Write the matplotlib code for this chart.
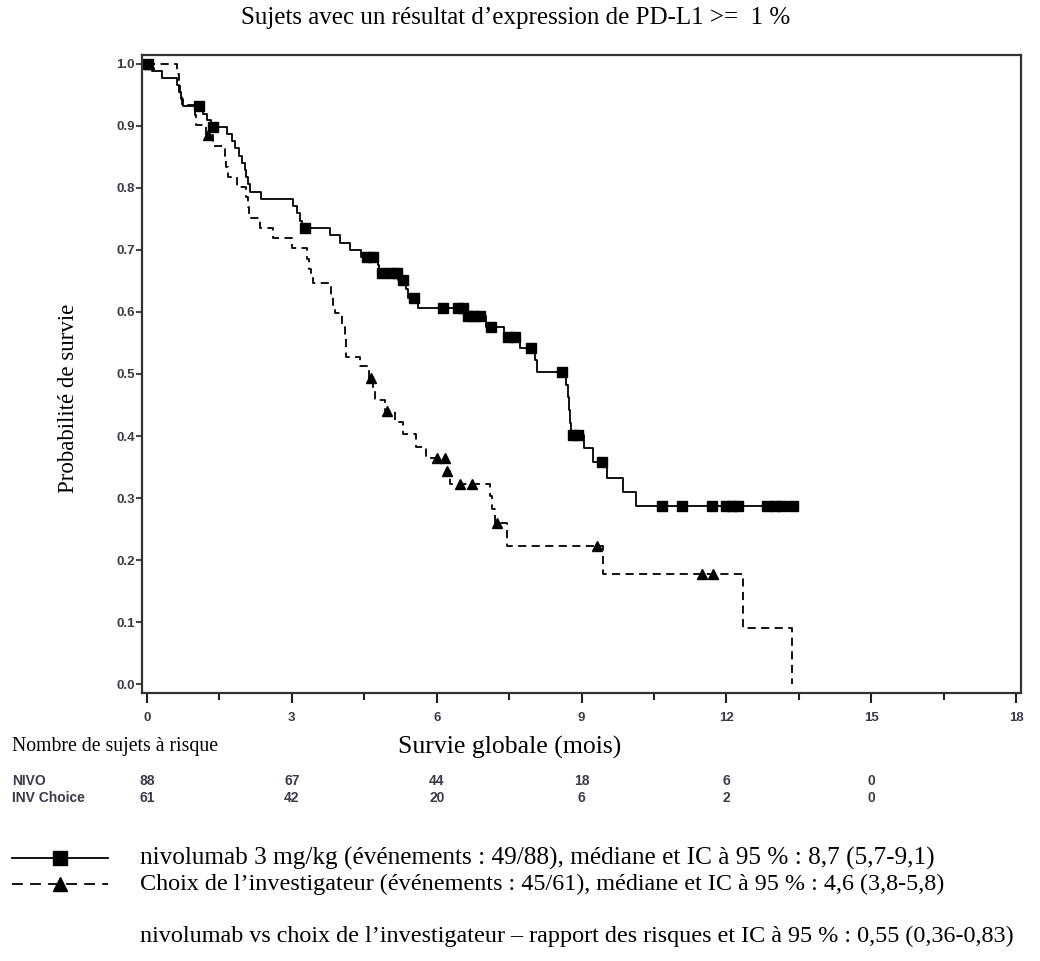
import numpy as np
import matplotlib
matplotlib.use("Agg")
import matplotlib.pyplot as plt
from matplotlib.lines import Line2D
from matplotlib.transforms import blended_transform_factory

# Kaplan-Meier steps (time in months, survival probability)
nivo_time = [0, 0.1, 0.3, 0.62, 0.66, 0.7, 0.74, 1.15, 1.25, 1.32, 1.65, 1.75, 1.82, 1.9,
             1.96, 2.02, 2.06, 2.1, 2.14, 2.37, 3.02, 3.1, 3.16, 3.2, 3.79, 4.0, 4.2,
             4.44, 4.78, 4.8, 5.2, 5.36, 5.4, 5.62, 6.58, 7.02, 7.4, 7.72, 8.04, 8.07,
             8.68, 8.71, 8.74, 8.77, 8.79, 9.05, 9.24, 9.52, 9.85, 10.12, 13.42]
nivo_surv = [1.0, 0.989, 0.977, 0.966, 0.955, 0.943, 0.932, 0.920, 0.909, 0.898, 0.887,
             0.875, 0.864, 0.852, 0.841, 0.829, 0.818, 0.806, 0.794, 0.783, 0.771, 0.759,
             0.747, 0.735, 0.724, 0.712, 0.700, 0.689, 0.676, 0.663, 0.652, 0.637, 0.622,
             0.607, 0.593, 0.576, 0.560, 0.542, 0.523, 0.504, 0.482, 0.463, 0.442, 0.421,
             0.401, 0.380, 0.358, 0.333, 0.310, 0.287, 0.287]
nivo_censor = [0.02, 1.08, 1.37, 3.27, 4.55, 4.68, 4.86, 5.05, 5.17, 5.3, 5.52, 6.14, 6.45,
               6.55, 6.65, 6.78, 6.9, 7.12, 7.47, 7.62, 7.96, 8.59, 8.82, 8.93, 9.43,
               10.67, 11.07, 11.7, 12.0, 12.12, 12.24, 12.85, 13.0, 13.15, 13.38]

inv_time = [0, 0.62, 0.66, 0.69, 0.72, 0.99, 1.02, 1.22, 1.37, 1.61, 1.64, 1.67, 1.86,
            2.06, 2.09, 2.12, 2.34, 2.61, 3.0, 3.31, 3.35, 3.4, 3.44, 3.82, 3.86, 3.9,
            4.03, 4.1, 4.12, 4.13, 4.41, 4.6, 4.68, 4.72, 4.93, 5.13, 5.31, 5.58, 5.78,
            6.2, 6.27, 7.1, 7.15, 7.2, 7.45, 9.45, 12.35, 13.35]
inv_surv = [1.0, 0.984, 0.967, 0.951, 0.934, 0.918, 0.902, 0.885, 0.868, 0.851, 0.834,
            0.818, 0.802, 0.785, 0.769, 0.752, 0.736, 0.719, 0.703, 0.686, 0.670, 0.656,
            0.646, 0.628, 0.612, 0.598, 0.576, 0.560, 0.544, 0.527, 0.513, 0.493, 0.475,
            0.458, 0.441, 0.422, 0.404, 0.383, 0.365, 0.343, 0.323, 0.303, 0.283, 0.259,
            0.222, 0.177, 0.091, 0.0]
inv_censor = [0.05, 1.27, 4.63, 4.98, 6.0, 6.17, 6.22, 6.48, 6.72, 7.25, 9.31, 11.5, 11.73]

risk_times = [0, 3, 6, 9, 12, 15]
nivo_risk = [88, 67, 44, 18, 6, 0]
inv_risk = [61, 42, 20, 6, 2, 0]

title = "Sujets avec un résultat d\u2019expression de PD-L1 >=  1 %"
legend_lines = [
    "nivolumab 3 mg/kg (événements : 49/88), médiane et IC à 95 % : 8,7 (5,7-9,1)",
    "Choix de l\u2019investigateur (événements : 45/61), médiane et IC à 95 % : 4,6 (3,8-5,8)",
]
hr_text = ("nivolumab vs choix de l\u2019investigateur \u2013 rapport des risques "
           "et IC à 95 % : 0,55 (0,36-0,83)")

SERIF = "Liberation Serif"
SANS = "Liberation Sans"
TICK_COLOR = "#3a3a48"
W, H = 1040, 961


def surv_at(times, surv, t):
    idx = np.searchsorted(times, t, side="right") - 1
    return np.asarray(surv)[idx]


def fx(px):
    return px / W


def fy(py):
    return 1 - py / H


fig = plt.figure(figsize=(W / 100, H / 100), dpi=100)
ax = fig.add_axes([fx(142), fy(693), fx(1021) - fx(142), fy(55) - fy(693)])

dash = (0, (4.5, 3))
ax.step(nivo_time, nivo_surv, where="post", color="black", lw=1.3)
ax.step(inv_time, inv_surv, where="post", color="black", lw=1.3, linestyle=dash)
ax.plot(nivo_censor, surv_at(nivo_time, nivo_surv, nivo_censor), "s", color="black",
        ms=6.5, mec="black")
ax.plot(inv_censor, surv_at(inv_time, inv_surv, inv_censor), "^", color="black",
        ms=6.5, mec="black")

ax.set_xlim(-0.104, 18.1)
ax.set_ylim(-0.0145, 1.0145)
ax.set_xticks(np.arange(0, 19, 3))
ax.set_xticks(np.arange(0, 18.1, 1.5), minor=True)
ax.set_yticks(np.arange(0, 1.01, 0.1))
ax.set_yticklabels([f"{v:.1f}" for v in np.arange(0, 1.01, 0.1)])
ax.tick_params(axis="x", which="major", length=7, width=1.5, pad=7, color="#222222")
ax.tick_params(axis="x", which="minor", length=5, width=1.5, color="#222222")
ax.tick_params(axis="y", length=4, width=1.2, pad=1, color="#222222")
for lab in ax.get_xticklabels() + ax.get_yticklabels():
    lab.set_fontfamily(SANS)
    lab.set_fontweight("bold")
    lab.set_fontsize(9.5)
    lab.set_color(TICK_COLOR)
for sp in ax.spines.values():
    sp.set_linewidth(1.6)
    sp.set_color("#333333")

fig.text(fx(516), fy(18), title, family=SERIF, fontsize=18, ha="center", va="center")
fig.text(fx(68), fy(398), "Probabilité de survie", family=SERIF, fontsize=16.5,
         rotation=90, ha="center", va="center")
fig.text(fx(510), fy(747), "Survie globale (mois)", family=SERIF, fontsize=18.5,
         ha="center", va="center")
fig.text(fx(12), fy(747), "Nombre de sujets à risque", family=SERIF, fontsize=14.2,
         ha="left", va="center")

# number at risk table under the axis
trans = blended_transform_factory(ax.transData, fig.transFigure)
fig.text(fx(12), fy(781), "NIVO", family=SANS, fontweight="bold", fontsize=10,
         color=TICK_COLOR, va="center")
fig.text(fx(12), fy(798), "INV Choice", family=SANS, fontweight="bold", fontsize=10,
         color=TICK_COLOR, va="center")
for t, n1, n2 in zip(risk_times, nivo_risk, inv_risk):
    ax.text(t, fy(781), str(n1), transform=trans, family=SANS, fontweight="bold",
            fontsize=10, color=TICK_COLOR, ha="center", va="center")
    ax.text(t, fy(798), str(n2), transform=trans, family=SANS, fontweight="bold",
            fontsize=10, color=TICK_COLOR, ha="center", va="center")

# legend drawn by hand below the table
fig.add_artist(Line2D([fx(12), fx(60), fx(108)], [fy(858)] * 3, color="black", lw=1.3,
                      marker="s", ms=10, markevery=[1]))
fig.add_artist(Line2D([fx(12), fx(60), fx(108)], [fy(884)] * 3, color="black", lw=1.3,
                      linestyle=(0, (6, 4)), marker="^", ms=10, markevery=[1]))
fig.text(fx(140), fy(858), legend_lines[0], family=SERIF, fontsize=18.2, va="center")
fig.text(fx(140), fy(884), legend_lines[1], family=SERIF, fontsize=17.4, va="center")
fig.text(fx(140), fy(936), hr_text, family=SERIF, fontsize=17.4, va="center")

fig.savefig("out.png", dpi=100)
